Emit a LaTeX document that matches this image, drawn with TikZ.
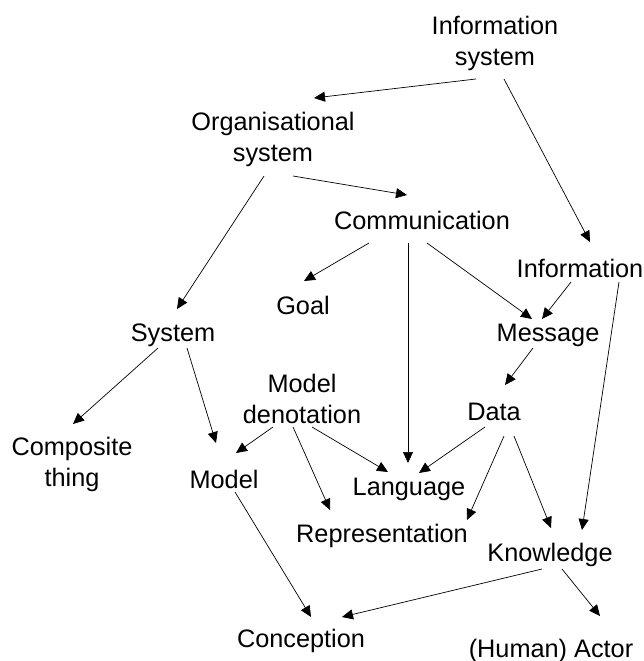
\documentclass[tikz,border=0pt]{standalone}
\usepackage{fontspec}
\setmainfont{Liberation Sans}
\usetikzlibrary{arrows.meta}
\begin{document}
\begin{tikzpicture}[x=1pt,y=-1pt,
  lbl/.style={inner sep=0pt,align=center,font=\fontsize{25.3pt}{31pt}\selectfont},
  arr/.style={line width=0.7pt,-{Triangle[length=11pt,width=10pt]}}]
\useasboundingbox (0,0) rectangle (644,661);
\node[lbl] (isys) at (495,43) {Information\\system};
\node[lbl] (org) at (273,139.5) {Organisational\\system};
\node[lbl] (comm) at (422,220) {Communication};
\node[lbl] (info) at (580,268) {Information};
\node[lbl] (goal) at (303,305) {Goal};
\node[lbl] (sys) at (173,335) {System};
\node[lbl] (msg) at (548,335) {Message};
\node[lbl] (md) at (302,398.5) {Model\\denotation};
\node[lbl] (data) at (494,412) {Data};
\node[lbl] (comp) at (72,464.5) {Composite\\thing};
\node[lbl] (model) at (224,479) {Model};
\node[lbl] (lang) at (409,489) {Language};
\node[lbl] (rep) at (382,536) {Representation};
\node[lbl] (know) at (550,555) {Knowledge};
\node[lbl] (conc) at (301,641) {Conception};
\node[lbl] (actor) at (551,650.5) {(Human) Actor};
% offsets relative to measured centres (node centre minus 2 in y)
\def\A#1#2#3{([shift={(#2,#3-2)}]#1.center)}
\draw[arr] \A{isys}{-19}{38} -- \A{org}{41}{-39.5};
\draw[arr] \A{isys}{9}{38} -- \A{info}{10}{-24};
\draw[arr] \A{org}{20}{38.5} -- \A{comm}{-15}{-23};
\draw[arr] \A{org}{-9}{38.5} -- \A{sys}{4}{-24};
\draw[arr] \A{comm}{-53}{25} -- \A{goal}{1}{-22};
\draw[arr] \A{comm}{-14}{25} -- \A{lang}{-1}{-24};
\draw[arr] \A{comm}{5}{25} -- \A{msg}{-16}{-14};
\draw[arr] \A{info}{-9}{16} -- \A{msg}{-6}{-14};
\draw[arr] \A{info}{39}{16} -- \A{know}{32}{-23};
\draw[arr] \A{sys}{-15}{15} -- \A{comp}{1}{-38.5};
\draw[arr] \A{sys}{14}{15} -- \A{model}{-8}{-34};
\draw[arr] \A{msg}{-15}{15} -- \A{data}{11}{-25};
\draw[arr] \A{md}{-29}{30.5} -- \A{model}{12}{-24};
\draw[arr] \A{md}{-9}{30.5} -- \A{rep}{-52}{-24};
\draw[arr] \A{md}{10}{30.5} -- \A{lang}{-21}{-15};
\draw[arr] \A{data}{-9}{17} -- \A{lang}{10}{-14};
\draw[arr] \A{data}{10}{26} -- \A{rep}{85}{-14};
\draw[arr] \A{data}{20}{26} -- \A{know}{1}{-25};
\draw[arr] \A{model}{11}{15} -- \A{conc}{10}{-22};
\draw[arr] \A{know}{-8}{16} -- \A{conc}{41}{-22};
\draw[arr] \A{know}{12}{16} -- \A{actor}{49}{-32.5};
\end{tikzpicture}
\end{document}
